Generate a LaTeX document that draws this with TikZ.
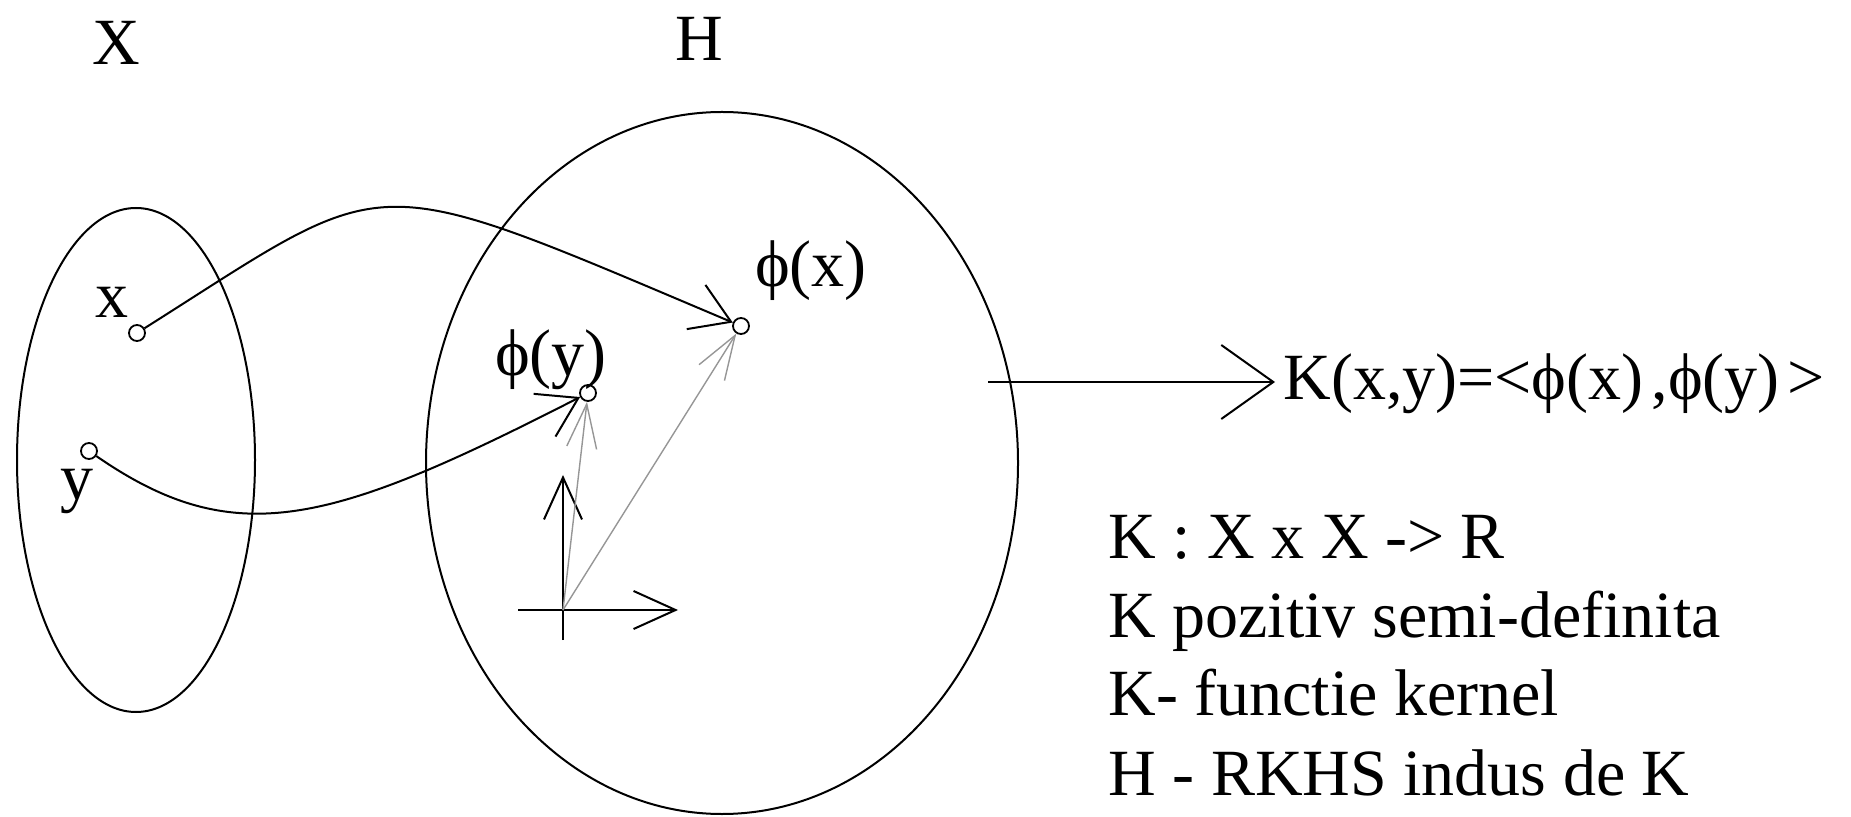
\documentclass[tikz,border=0pt]{standalone}
\usepackage{fontspec}
\setmainfont{Liberation Serif}
\usetikzlibrary{arrows.meta,shapes.geometric}
\definecolor{vecgray}{RGB}{150,150,150}
\begin{document}
\begin{tikzpicture}[x=0.5pt,y=-0.5pt,
  lbl/.style={inner sep=0pt, font=\fontsize{33}{39.5}\selectfont},
  setshape/.style={ellipse, draw, line width=1pt, inner sep=0pt},
  pt/.style={circle, draw, fill=white, line width=0.9pt, inner sep=0pt, minimum size=8pt},
  blk/.style={line width=1pt},
  barb/.style={blk, -{Straight Barb[length=19pt,width=24pt,line width=1pt]}},
  axisbarb/.style={blk, -{Straight Barb[length=21pt,width=19pt,line width=1pt]}},
  bigbarb/.style={blk, -{Straight Barb[length=26pt,width=37pt,line width=1pt]}},
  graybarb/.style={vecgray, line width=0.7pt, -{Straight Barb[length=22pt,width=15pt,line width=0.7pt]}}
]
\useasboundingbox (0,0) rectangle (1851,817);

% sets
\node[setshape, minimum width=119pt, minimum height=252pt] (setX) at (136,460) {};
\node[setshape, minimum width=296pt, minimum height=351pt] (setH) at (722,463) {};

% titles
\node[lbl, anchor=base] (tX) at (116,65) {X};
\node[lbl, anchor=base] (tH) at (699,61) {H};

% points
\node[pt] (px) at (137,333) {};
\node[pt] (py) at (89,451) {};
\node[pt] (phx) at (741,326) {};
\node[pt] (phy) at (588,393) {};

% point labels
\node[lbl, anchor=base] (lx) at (112,318) {x};
\node[lbl, anchor=base] (ly) at (77,500) {y};
\node[lbl, anchor=base] (lphy) at (551,376) {ϕ(y)};
\node[lbl, anchor=base] (lphx) at (811,287) {ϕ(x)};

% feature map arrows
\draw[barb] (px) .. controls (395,170) and (360,165) .. (phx);
\draw[barb] (py) .. controls (235,552) and (330,525) .. (phy);

% axes in H
\coordinate (o) at (563,610);
\coordinate (vb) at (563,640);
\coordinate (vt) at (563,475);
\coordinate (hl) at (518,610);
\coordinate (hr) at (678,610);
\draw[axisbarb] (vb) -- (vt);
\draw[axisbarb] (hl) -- (hr);

% vectors
\draw[graybarb] (o) -- (phy);
\draw[graybarb] (o) -- (phx);

% kernel
\node[lbl, anchor=base west] (kxy) at (1283,400) {K(x,y)=<ϕ(x)\kern4pt,ϕ(y)\kern4pt>};
\coordinate (hs) at (988,382);
\draw[bigbarb, shorten >=4pt] (hs) -- (hs -| kxy.west);

% notes
\node[lbl, anchor=base west] (n1) at (1108,558) {K : X x X -> R};
\node[lbl, anchor=base west] (n2) at (1108,637) {K pozitiv semi-definita};
\node[lbl, anchor=base west] (n3) at (1108,715) {K- functie kernel};
\node[lbl, anchor=base west] (n4) at (1108,795) {H - RKHS indus de K};
\end{tikzpicture}
\end{document}
